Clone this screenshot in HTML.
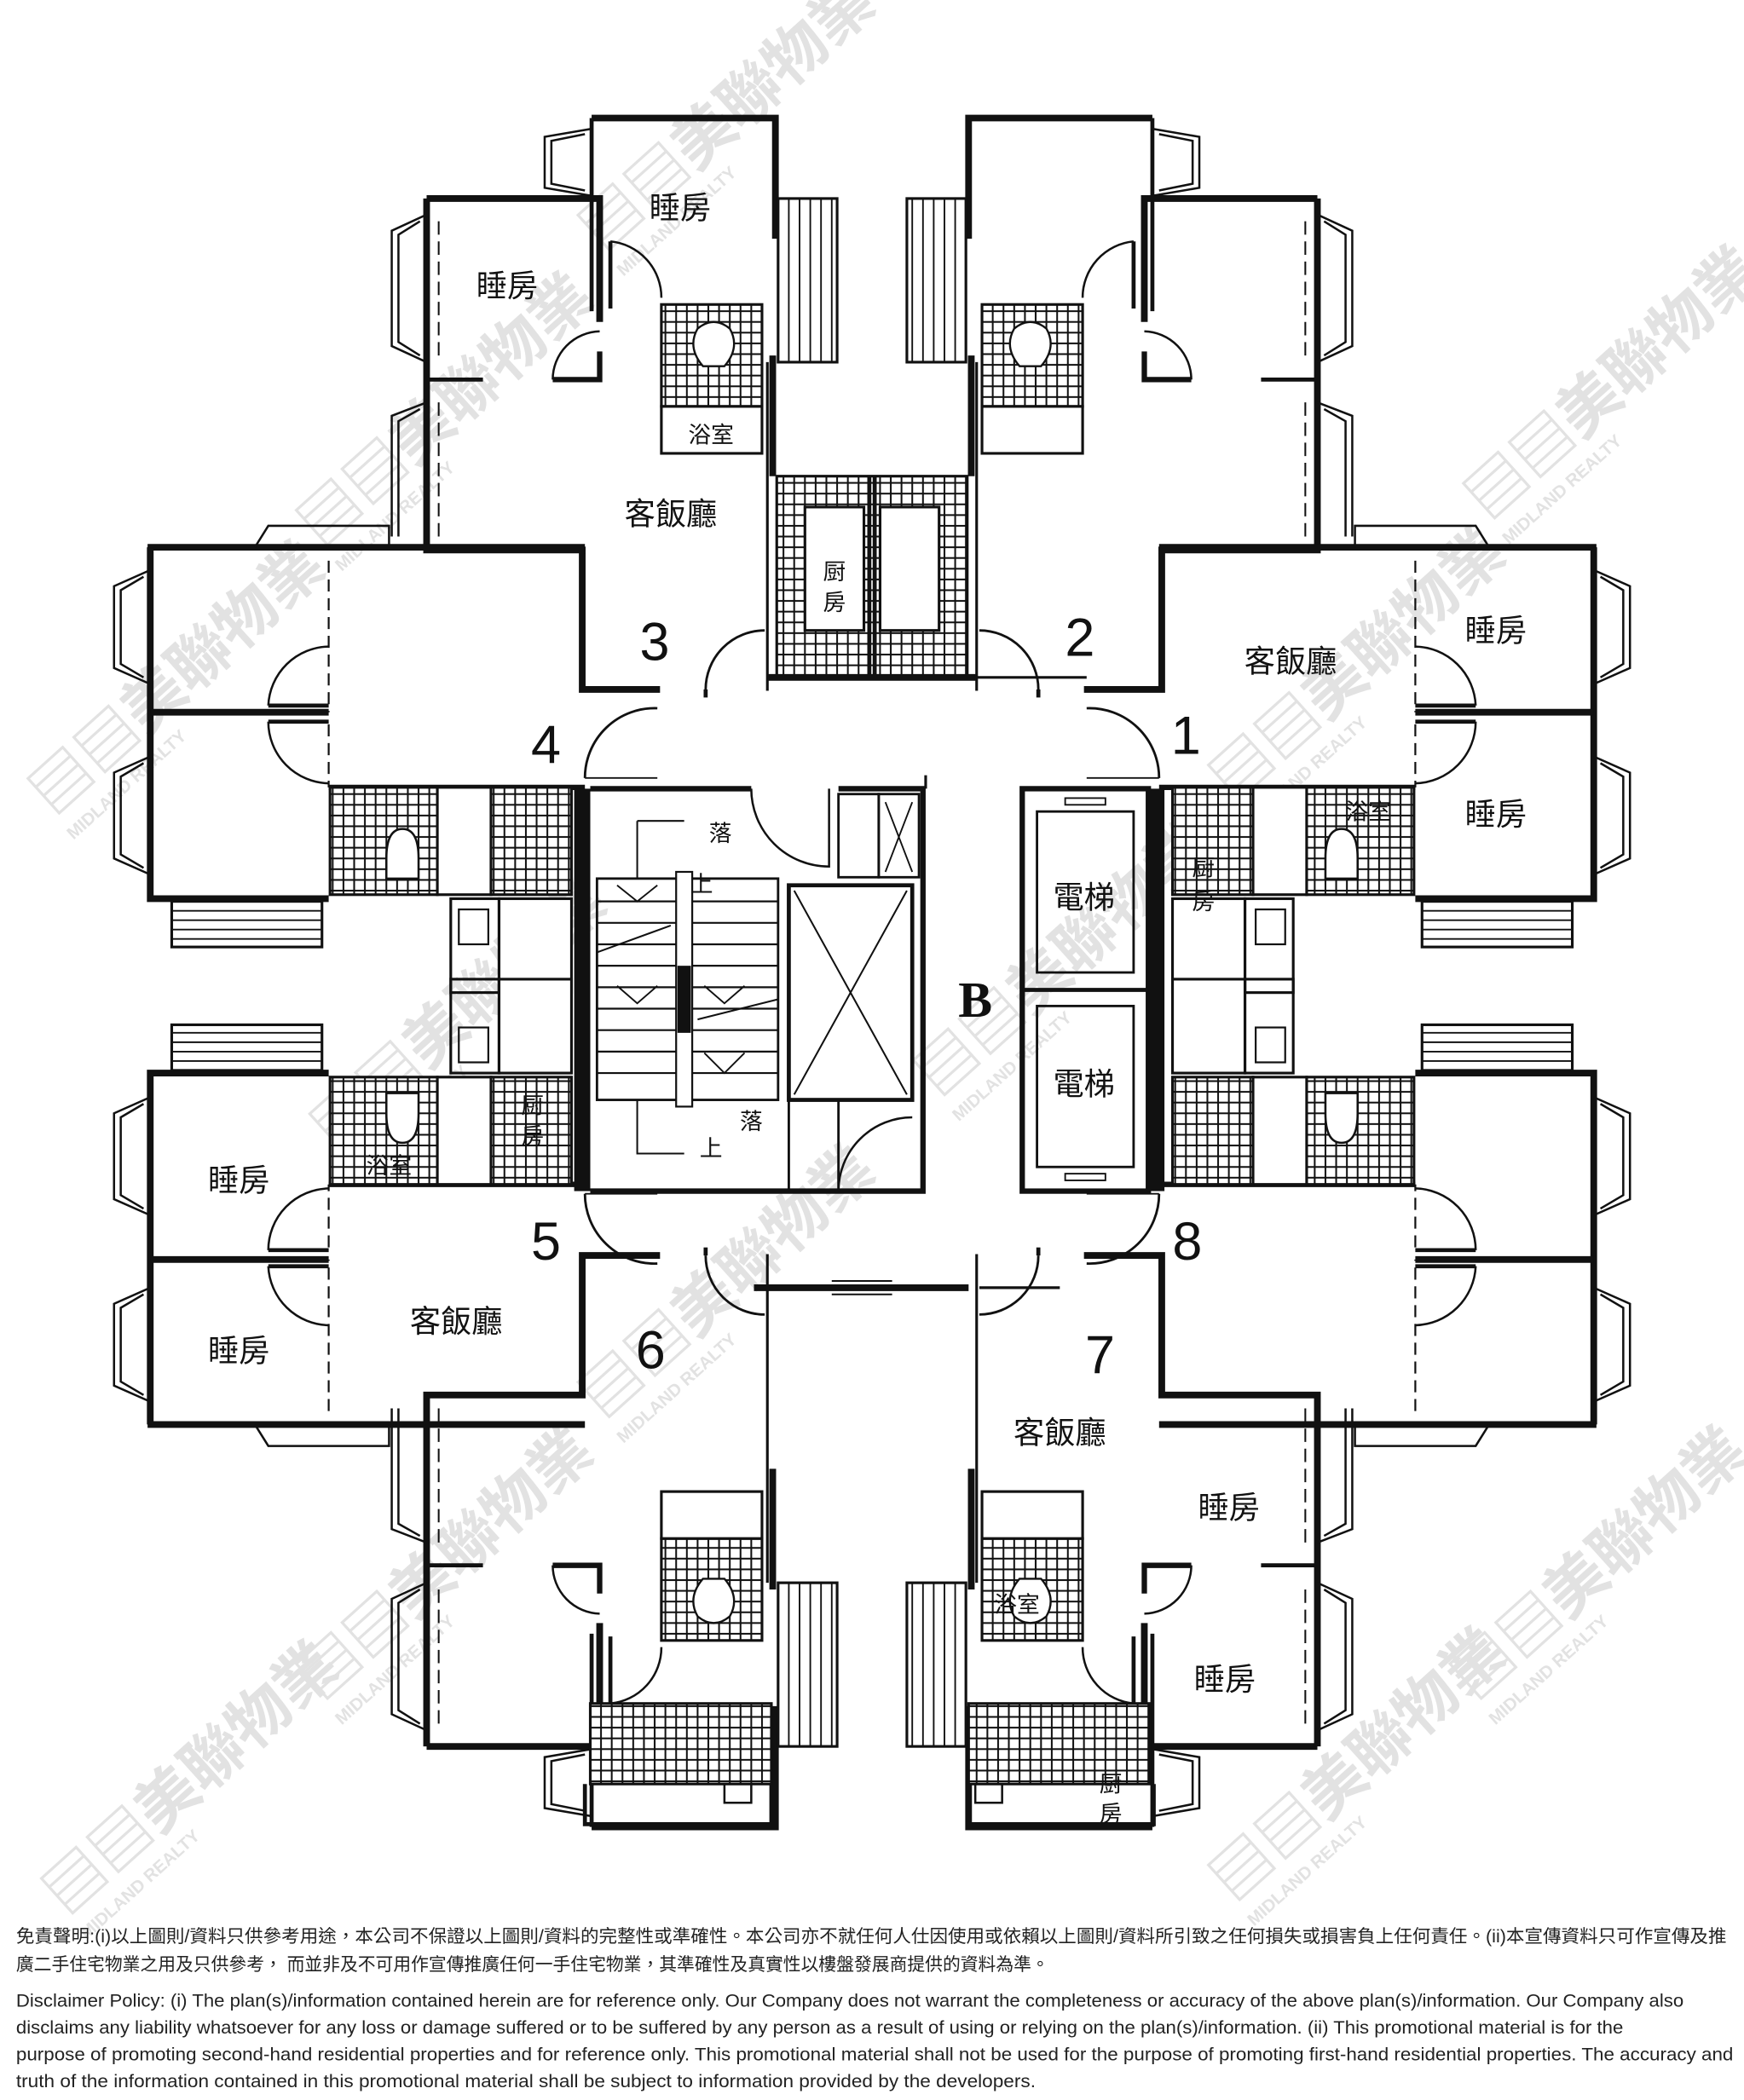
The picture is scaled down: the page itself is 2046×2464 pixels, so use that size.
<!DOCTYPE html>
<html><head><meta charset="utf-8"><style>
html,body{margin:0;padding:0;background:#fff}
svg{display:block}
</style></head><body>
<svg width="2046" height="2464" viewBox="0 0 1300 1565.6" xmlns="http://www.w3.org/2000/svg" font-family="'Liberation Sans','Noto Sans CJK TC',sans-serif">
<defs>
<pattern id="g" width="8" height="8" patternUnits="userSpaceOnUse">
<rect x="0" y="0" width="8" height="8" fill="#fff" stroke="#111" stroke-width="1.3"/>
</pattern>
<g id="A" fill="none" stroke="#111">
 <path d="M441,88 H578 V178" stroke-width="5"/>
 <path d="M576,265 V355" stroke-width="5"/>
 <path d="M441,88 V232" stroke-width="3"/>
 <path d="M441,96 L406,102 V140 L441,146 M436,100 L411,105 V137 L436,142" stroke-width="1.6"/>
 <path d="M318,148 H447 V240" stroke-width="5"/>
 <path d="M447,262 V283 H412" stroke-width="4"/>
 <path d="M318,283 H360" stroke-width="3"/>
 <path d="M318,148 V410 H434 V514 H492" stroke-width="5"/>
 <path d="M318,160 L292,172 V258 L318,270 M313,165 L297,175 V255 L313,265" stroke-width="1.6"/>
 <path d="M318,300 L292,310 V400 M313,305 L297,314 V400" stroke-width="1.6"/>
 <path d="M327,165 V265 M327,300 V405" stroke-width="1.3" stroke-dasharray="10,5"/>
 <path d="M412,283 A36,36 0 0 1 447,247" stroke-width="1.6"/>
 <path d="M455,180 A42,42 0 0 1 493,222" stroke-width="1.6"/>
 <path d="M455,180 V230" stroke-width="3"/>
 <rect x="493" y="227" width="75" height="76" fill="url(#g)" stroke-width="2"/>
 <path d="M520,245 q12,-10 24,0 q8,14 -4,28 h-16 q-12,-14 -4,-28z" fill="#fff" stroke-width="1.5"/>
 <rect x="493" y="303" width="75" height="35" fill="#fff" stroke-width="2"/>
 <rect x="580" y="148" width="44" height="122" stroke-width="2"/>
 <path d="M588,148 V270 M596,148 V270 M604,148 V270 M612,148 V270 M620,148 V270" stroke-width="1.2"/>
 <path d="M572,270 V515" stroke-width="2"/>
 <path d="M526,514 A44,44 0 0 1 570,470" stroke-width="1.8"/>
 <path d="M526,514 V520" stroke-width="3"/>
</g>
<g id="B" fill="none" stroke="#111">
 <path d="M110,408 H436" stroke-width="5"/>
 <path d="M190,408 L200,392 H290 V408" stroke-width="1.6"/>
 <path d="M112,408 V670 H245" stroke-width="5"/>
 <path d="M112,531 H245" stroke-width="5"/>
 <path d="M245,418 V531 M245,540 V587" stroke-width="1.4" stroke-dasharray="9,5"/>
 <path d="M112,425 L85,437 V498 L112,510 M107,430 L90,440 V495 L107,505" stroke-width="1.6"/>
 <path d="M112,564 L85,576 V640 L112,652 M107,569 L90,579 V637 L107,647" stroke-width="1.6"/>
 <path d="M245,482 A46,46 0 0 0 200,526" stroke-width="1.6"/>
 <path d="M200,538 A46,46 0 0 0 245,584" stroke-width="1.6"/>
 <path d="M200,526 H245 M200,538 H245" stroke-width="3"/>
 <path d="M245,587 H436" stroke-width="4"/>
 <rect x="246" y="587" width="80" height="80" fill="url(#g)" stroke-width="2"/>
 <path d="M288,640 q0,-22 12,-22 q12,0 12,22 v15 h-24z" fill="#fff" stroke-width="1.6"/>
 <rect x="326" y="587" width="40" height="80" fill="#fff" stroke-width="2"/>
 <rect x="366" y="587" width="60" height="80" fill="url(#g)" stroke-width="2"/>
 <rect x="128" y="672" width="112" height="34" stroke-width="2"/>
 <path d="M128,679 H240 M128,686 H240 M128,693 H240 M128,700 H240" stroke-width="1.2"/>
 <path d="M436,580 A52,52 0 0 1 490,528" stroke-width="1.8"/>
 <path d="M436,580 H490" stroke-width="1.2"/>
 <rect x="336" y="670" width="36" height="70" stroke-width="2"/>
 <rect x="342" y="678" width="22" height="26" stroke-width="1.4"/>
 <rect x="372" y="670" width="54" height="70" fill="#fff" stroke-width="2"/>
</g>
</defs>

<g fill="#e2e2e2" font-size="46" font-weight="bold" font-family="'Noto Sans CJK TC',sans-serif">
 <g transform="translate(40,610) rotate(-42)"><text>▤▤美聯物業</text><text y="22" font-size="13" font-family="'Liberation Sans',sans-serif">MIDLAND REALTY</text></g>
 <g transform="translate(240,410) rotate(-42)"><text>▤▤美聯物業</text><text y="22" font-size="13" font-family="'Liberation Sans',sans-serif">MIDLAND REALTY</text></g>
 <g transform="translate(450,190) rotate(-42)"><text>▤▤美聯物業</text><text y="22" font-size="13" font-family="'Liberation Sans',sans-serif">MIDLAND REALTY</text></g>
 <g transform="translate(1110,390) rotate(-42)"><text>▤▤美聯物業</text><text y="22" font-size="13" font-family="'Liberation Sans',sans-serif">MIDLAND REALTY</text></g>
 <g transform="translate(920,600) rotate(-42)"><text>▤▤美聯物業</text><text y="22" font-size="13" font-family="'Liberation Sans',sans-serif">MIDLAND REALTY</text></g>
 <g transform="translate(700,820) rotate(-42)"><text>▤▤美聯物業</text><text y="22" font-size="13" font-family="'Liberation Sans',sans-serif">MIDLAND REALTY</text></g>
 <g transform="translate(250,860) rotate(-42)"><text>▤▤美聯物業</text><text y="22" font-size="13" font-family="'Liberation Sans',sans-serif">MIDLAND REALTY</text></g>
 <g transform="translate(450,1060) rotate(-42)"><text>▤▤美聯物業</text><text y="22" font-size="13" font-family="'Liberation Sans',sans-serif">MIDLAND REALTY</text></g>
 <g transform="translate(240,1270) rotate(-42)"><text>▤▤美聯物業</text><text y="22" font-size="13" font-family="'Liberation Sans',sans-serif">MIDLAND REALTY</text></g>
 <g transform="translate(1100,1270) rotate(-42)"><text>▤▤美聯物業</text><text y="22" font-size="13" font-family="'Liberation Sans',sans-serif">MIDLAND REALTY</text></g>
 <g transform="translate(50,1430) rotate(-42)"><text>▤▤美聯物業</text><text y="22" font-size="13" font-family="'Liberation Sans',sans-serif">MIDLAND REALTY</text></g>
 <g transform="translate(920,1420) rotate(-42)"><text>▤▤美聯物業</text><text y="22" font-size="13" font-family="'Liberation Sans',sans-serif">MIDLAND REALTY</text></g>
</g>

<use href="#A"/>
<use href="#A" transform="translate(1300,0) scale(-1,1)"/>
<use href="#A" transform="translate(0,1450) scale(1,-1)"/>
<use href="#A" transform="translate(1300,1450) scale(-1,-1)"/>
<use href="#B"/>
<use href="#B" transform="translate(1300,0) scale(-1,1)"/>
<use href="#B" transform="translate(0,1470) scale(1,-1)"/>
<use href="#B" transform="translate(1300,1470) scale(-1,-1)"/>

<g fill="none" stroke="#111">
 <rect x="579" y="355" width="142" height="150" fill="url(#g)" stroke-width="2"/>
 <rect x="600" y="378" width="44" height="92" fill="#fff" stroke-width="2"/>
 <rect x="656" y="378" width="44" height="92" fill="#fff" stroke-width="2"/>
 <path d="M648,355 V505 M652,355 V505" stroke-width="3"/>
 <path d="M572,505 H728" stroke-width="5"/>
 <path d="M562,960 H722" stroke-width="5"/>
 <path d="M620,955 H665 M620,965 H665" stroke-width="1.3"/>
 <rect x="440" y="1270" width="135" height="60" fill="url(#g)" stroke-width="2"/>
 <rect x="722" y="1270" width="135" height="60" fill="url(#g)" stroke-width="2"/>
 <path d="M436,1330 V1360 H575 V1330 M722,1330 V1360 H860 V1330" stroke-width="3"/>
 <rect x="540" y="1330" width="20" height="14" stroke-width="1.6"/>
 <rect x="727" y="1330" width="20" height="14" stroke-width="1.6"/>
 <rect x="428" y="588" width="12" height="300" fill="#111" stroke="none"/>
 <path d="M440,588 H560 M625,588 H688 V888 H440" stroke-width="4"/>
 <path d="M560,588 A58,58 0 0 0 618,646 V588" stroke-width="1.6"/>
 <rect x="625" y="592" width="30" height="62" stroke-width="1.8"/>
 <rect x="655" y="592" width="30" height="62" stroke-width="1.8"/>
 <path d="M660,598 L680,650 M680,598 L660,650" stroke-width="1.2"/>
 <rect x="445" y="655" width="135" height="165" stroke-width="1.8"/>
 <path d="M445,672 H580 M445,688 H580 M445,704 H580 M445,720 H580 M445,736 H580 M445,752 H580 M445,768 H580 M445,784 H580 M445,800 H580" stroke-width="1.4"/>
 <rect x="504" y="650" width="12" height="175" fill="#fff" stroke-width="1.4"/>
 <rect x="505" y="720" width="10" height="50" fill="#111" stroke="none"/>
 <path d="M475,612 V655 M475,612 H510 M475,820 V860 H510" stroke-width="1.3"/>
 <path d="M445,710 L500,690 M520,760 L580,745" stroke-width="1.3"/>
 <path d="M460,660 L475,672 L490,660 M525,735 L540,748 L555,735 M460,735 L475,748 L490,735 M525,785 L540,800 L555,785" stroke-width="1.2"/>
 <rect x="588" y="660" width="92" height="160" stroke-width="3"/>
 <path d="M592,664 L676,816 M676,664 L592,816" stroke-width="1.3"/>
 <path d="M588,820 V888 M625,820 V888" stroke-width="1.8"/>
 <path d="M625,888 A55,55 0 0 1 680,833" stroke-width="1.6"/>
 <rect x="762" y="588" width="94" height="300" stroke-width="4"/>
 <rect x="855" y="588" width="13" height="300" fill="#111" stroke="none"/>
 <path d="M762,738 H856" stroke-width="3"/>
 <rect x="773" y="605" width="72" height="120" stroke-width="1.8"/>
 <rect x="773" y="750" width="72" height="120" stroke-width="1.8"/>
 <rect x="794" y="595" width="30" height="5" stroke-width="1.2"/>
 <rect x="794" y="875" width="30" height="5" stroke-width="1.2"/>
 <path d="M690,578 V588 M728,505 H810 M730,960 H790" stroke-width="2"/>
</g>

<g fill="#111" font-family="'Noto Sans CJK TC','Liberation Sans',sans-serif" font-size="23" text-anchor="middle">
 <text x="507" y="163">睡房</text>
 <text x="378" y="221">睡房</text>
 <text x="530" y="330" font-size="17">浴室</text>
 <text x="500" y="391">客飯廳</text>
 <text x="622" y="432" font-size="17">厨</text>
 <text x="622" y="455" font-size="17">房</text>
 <text x="1115" y="478">睡房</text>
 <text x="962" y="501">客飯廳</text>
 <text x="1115" y="615">睡房</text>
 <text x="1020" y="611" font-size="17">浴室</text>
 <text x="897" y="653" font-size="17">厨</text>
 <text x="897" y="678" font-size="17">房</text>
 <text x="808" y="677">電梯</text>
 <text x="808" y="816">電梯</text>
 <text x="537" y="627" font-size="17">落</text>
 <text x="523" y="665" font-size="17">上</text>
 <text x="560" y="842" font-size="17">落</text>
 <text x="530" y="862" font-size="17">上</text>
 <text x="178" y="888">睡房</text>
 <text x="178" y="1015">睡房</text>
 <text x="340" y="993">客飯廳</text>
 <text x="290" y="875" font-size="17">浴室</text>
 <text x="397" y="830" font-size="17">厨</text>
 <text x="397" y="853" font-size="17">房</text>
 <text x="790" y="1076">客飯廳</text>
 <text x="916" y="1132">睡房</text>
 <text x="913" y="1260">睡房</text>
 <text x="758" y="1202" font-size="17">浴室</text>
 <text x="828" y="1336" font-size="17">厨</text>
 <text x="828" y="1358" font-size="17">房</text>
</g>
<g fill="#111" font-size="40" text-anchor="middle" font-family="'Liberation Sans',sans-serif">
 <text x="488" y="492">3</text>
 <text x="805" y="489">2</text>
 <text x="884" y="562">1</text>
 <text x="407" y="569">4</text>
 <text x="407" y="939">5</text>
 <text x="485" y="1020">6</text>
 <text x="820" y="1024">7</text>
 <text x="885" y="939">8</text>
 <text x="727" y="758" font-size="38" font-weight="bold" font-family="'Liberation Serif',serif">B</text>
</g>

<g fill="#222" font-size="13.5" font-family="'Liberation Sans','Noto Sans CJK TC',sans-serif">
 <text x="12" y="1448" textLength="1275" lengthAdjust="spacingAndGlyphs">免責聲明:(i)以上圖則/資料只供參考用途，本公司不保證以上圖則/資料的完整性或準確性。本公司亦不就任何人仕因使用或依賴以上圖則/資料所引致之任何損失或損害負上任何責任。(ii)本宣傳資料只可作宣傳及推</text>
 <text x="12" y="1469" textLength="770" lengthAdjust="spacingAndGlyphs">廣二手住宅物業之用及只供參考， 而並非及不可用作宣傳推廣任何一手住宅物業，其準確性及真實性以樓盤發展商提供的資料為準。</text>
 <text x="12" y="1496" textLength="1243" lengthAdjust="spacingAndGlyphs">Disclaimer Policy: (i) The plan(s)/information contained herein are for reference only. Our Company does not warrant the completeness or accuracy of the above plan(s)/information. Our Company also</text>
 <text x="12" y="1516" textLength="1198" lengthAdjust="spacingAndGlyphs">disclaims any liability whatsoever for any loss or damage suffered or to be suffered by any person as a result of using or relying on the plan(s)/information. (ii) This promotional material is for the</text>
 <text x="12" y="1536" textLength="1280" lengthAdjust="spacingAndGlyphs">purpose of promoting second-hand residential properties and for reference only. This promotional material shall not be used for the purpose of promoting first-hand residential properties. The accuracy and</text>
 <text x="12" y="1556" textLength="760" lengthAdjust="spacingAndGlyphs">truth of the information contained in this promotional material shall be subject to information provided by the developers.</text>
</g>
</svg>
</body></html>
